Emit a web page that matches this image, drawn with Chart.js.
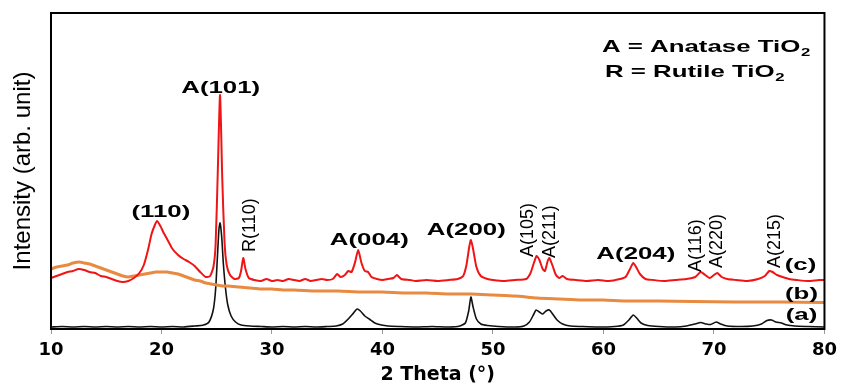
<!DOCTYPE html>
<html>
<head>
<meta charset="utf-8">
<script src="https://cdn.jsdelivr.net/npm/chart.js@4.4.0/dist/chart.umd.min.js"></script>
<style>
  body { margin: 0; background: #fff; }
  #wrap { width: 843px; height: 387px; }
</style>
</head>
<body>
<div id="wrap"><canvas id="xrd" width="843" height="387"></canvas></div>
<script>
// 2 theta (deg) and intensity (arb. unit)
const thetaC = [10.0, 10.5, 11.0, 11.5, 12.0, 12.5, 13.0, 13.5, 14.0, 14.5, 15.0, 15.5, 16.0, 16.5, 17.0, 17.5, 18.0, 18.4, 18.8, 19.1,
  19.4, 19.6, 19.9, 20.2, 20.6, 21.0, 21.5, 22.0, 22.5, 23.0, 23.5, 24.0, 24.4, 24.7, 24.9, 25.1, 25.3, 25.5, 25.7, 25.9,
  26.2, 26.6, 27.0, 27.2, 27.4, 27.6, 27.9, 28.4, 29.0, 29.5, 30.0, 30.5, 31.0, 31.5, 32.0, 32.5, 33.0, 33.5, 34.0, 34.5,
  35.0, 35.5, 35.9, 36.2, 36.6, 36.9, 37.2, 37.5, 37.8, 38.1, 38.4, 38.7, 39.0, 39.5, 40.0, 40.5, 41.0, 41.3, 41.7, 42.5,
  43.0, 44.0, 45.0, 46.0, 46.8, 47.3, 47.6, 47.85, 48.0, 48.2, 48.5, 48.9, 49.5, 50.0, 51.0, 52.0, 53.0, 53.4, 53.7, 53.95,
  54.2, 54.5, 54.7, 54.95, 55.1, 55.4, 55.7, 56.0, 56.3, 56.7, 57.5, 58.5, 59.5, 60.5, 61.5, 62.0, 62.4, 62.7, 63.0, 63.3,
  63.8, 64.5, 65.5, 66.5, 67.5, 68.3, 68.8, 69.2, 69.6, 70.0, 70.3, 70.7, 71.2, 72.0, 73.0, 74.0, 74.6, 75.0, 75.3, 75.7,
  76.2, 76.8, 77.5, 78.5, 79.5, 80.0];
const intensityC = [51, 53, 55, 57, 58, 60, 59, 57, 56, 53, 52, 50, 48, 47, 48, 51, 56, 64, 80, 95,
  104, 108, 103, 96, 88, 80, 74, 70, 67, 63, 57, 52, 53, 62, 85, 160, 234, 150, 88, 64,
  54, 50, 51, 58, 71, 60, 51, 49, 48, 50, 48, 49, 48, 50, 49, 48, 50, 48, 49, 50,
  49, 50, 55, 52, 54, 58, 57, 66, 79, 66, 58, 57, 52, 50, 49, 50, 51, 54, 50, 49,
  48, 49, 48, 49, 50, 53, 64, 82, 89, 80, 62, 53, 50, 49, 48, 49, 50, 56, 66, 73,
  69, 60, 58, 68, 71, 63, 54, 51, 53, 50, 49, 48, 49, 48, 50, 52, 60, 66, 61, 55,
  50, 49, 48, 49, 50, 52, 57, 54, 51, 54, 56, 52, 50, 49, 48, 50, 53, 58, 57, 54,
  52, 50, 49, 48, 49, 49];

const thetaB = [10, 10.5, 11, 11.5, 12, 12.6, 13, 13.5, 14, 14.5, 15, 15.5, 16, 16.5, 17, 17.5, 18, 18.5, 19, 19.5,
  20, 20.5, 21, 21.5, 22, 22.5, 23, 23.5, 24, 24.5, 25, 25.5, 26, 27, 28, 29, 30, 31, 32, 34,
  36, 38, 40, 42, 44, 46, 48, 50, 52, 54, 56, 58, 60, 62, 65, 68, 72, 76, 80];
const intensityB = [60, 62, 63, 64, 66, 67, 66, 65, 63, 61, 59, 57, 55, 53, 52, 53, 54, 55, 56, 57,
  57, 57, 56, 55, 53, 51, 49, 48, 46, 45, 44, 43, 43, 42, 41, 40, 40, 39, 39, 38,
  38, 37, 37, 36, 36, 35, 35, 34, 33, 31, 30, 29, 29, 28, 28, 27.5, 27, 27, 26.5];

const thetaA = [10, 11, 12, 13, 14, 15, 16, 17, 18, 19, 20, 21, 22, 23, 23.8, 24.3, 24.7, 24.9, 25.05, 25.2,
  25.3, 25.45, 25.6, 25.8, 26.0, 26.3, 26.7, 27.2, 28, 29, 30, 31, 32, 33, 34, 35, 35.8, 36.4, 36.9, 37.3,
  37.7, 38.0, 38.4, 38.8, 39.3, 39.9, 40.5, 41.5, 43, 44.5, 46, 47, 47.5, 47.8, 48.0, 48.2, 48.5, 48.9, 49.5, 50.5,
  52, 52.8, 53.3, 53.7, 53.9, 54.2, 54.5, 54.8, 55.1, 55.4, 55.8, 56.3, 57, 58, 59.5, 61, 61.8, 62.3, 62.7, 63.0,
  63.4, 64, 65, 66.5, 67.5, 68.3, 68.8, 69.3, 69.7, 70.2, 70.6, 71.2, 72.5, 73.5, 74.3, 74.8, 75.2, 75.6, 76.1, 76.6,
  77.3, 78.5, 80];
const intensityA = [2, 2.5, 2, 2.5, 2, 2.5, 2, 2.5, 2, 2.5, 2, 2.5, 2, 3, 4, 7, 20, 40, 70, 100,
  106, 92, 65, 40, 24, 13, 7, 4, 3, 2.5, 2, 2.5, 2, 2.5, 2, 2.5, 3, 5, 10, 15,
  20, 18, 13, 10, 6, 4, 3, 2.5, 2, 2.5, 2, 3, 6, 18, 32, 22, 10, 5, 3.5, 2.5,
  2, 3, 7, 15, 19, 17, 15, 18, 19, 15, 9, 5, 3, 2.5, 2, 2.5, 4, 9, 14, 11,
  6, 3.5, 2.5, 2, 3, 5, 6.5, 5, 4.5, 7, 5, 3, 2.5, 3, 5, 8.5, 9, 7, 6, 4,
  3, 2.5, 2];

const xTicks = [10, 20, 30, 40, 50, 60, 70, 80];

// peak labels: [text, theta, intensity]
const peakLabels = [['A(101)', 25.36, 236], ['(110)', 19.94, 112], ['A(004)', 38.81, 84], ['A(200)', 47.58, 94],
  ['A(204)', 62.93, 70], ['(c)', 77.83, 59], ['(b)', 77.92, 30], ['(a)', 77.92, 9]];
const sideLabels = [['R(110)', 27.97, 77], ['A(105)', 53.18, 72], ['A(211)', 55.16, 71],
  ['A(116)', 68.35, 57], ['A(220)', 70.25, 61], ['A(215)', 75.49, 61]];
const keyLines = [['A = Anatase TiO', 59.86, 277], ['R = Rutile TiO', 60.13, 252]];

const pts = (xs, ys) => xs.map((x, i) => ({ x: x, y: ys[i] }));

const textPlugin = {
  id: 'xrdText',
  afterDatasetsDraw(chart) {
    const { ctx, chartArea, scales } = chart;
    const xs = scales.x, ys = scales.y;
    ctx.save();
    ctx.fillStyle = '#000';

    // bold labels, stretched wide like the original figure
    ctx.font = 'bold 17px "Liberation Sans", Arial, sans-serif';
    ctx.textAlign = 'center';
    ctx.textBaseline = 'alphabetic';
    peakLabels.forEach(([t, th, v]) => {
      ctx.save();
      ctx.translate(xs.getPixelForValue(th), ys.getPixelForValue(v));
      ctx.scale(1.52, 1);
      ctx.fillText(t, 0, 0);
      ctx.restore();
    });

    // vertical labels
    ctx.font = '18px "Liberation Sans", Arial, sans-serif';
    ctx.textAlign = 'left';
    ctx.textBaseline = 'middle';
    sideLabels.forEach(([t, th, v]) => {
      ctx.save();
      ctx.translate(xs.getPixelForValue(th), ys.getPixelForValue(v));
      ctx.rotate(-Math.PI / 2);
      ctx.fillText(t, 0, 0);
      ctx.restore();
    });

    // key with subscript 2
    ctx.textBaseline = 'alphabetic';
    keyLines.forEach(([t, th, v]) => {
      ctx.save();
      ctx.translate(xs.getPixelForValue(th), ys.getPixelForValue(v));
      ctx.scale(1.52, 1);
      ctx.font = 'bold 17px "Liberation Sans", Arial, sans-serif';
      ctx.fillText(t, 0, 0);
      const w = ctx.measureText(t).width;
      ctx.font = 'bold 11px "Liberation Sans", Arial, sans-serif';
      ctx.fillText('2', w + 0.5, 4);
      ctx.restore();
    });

    // frame
    ctx.strokeStyle = '#000';
    ctx.lineWidth = 2;
    ctx.strokeRect(chartArea.left, chartArea.top, chartArea.right - chartArea.left, chartArea.bottom - chartArea.top);
    ctx.restore();
  }
};

new Chart(document.getElementById('xrd'), {
  type: 'line',
  data: {
    datasets: [
      { label: '(c)', data: pts(thetaC, intensityC), borderColor: '#f01414', borderWidth: 2 },
      { label: '(b)', data: pts(thetaB, intensityB), borderColor: '#e88a40', borderWidth: 3 },
      { label: '(a)', data: pts(thetaA, intensityA), borderColor: '#111111', borderWidth: 1.6 }
    ]
  },
  options: {
    responsive: false,
    animation: false,
    parsing: false,
    elements: { point: { radius: 0 }, line: { tension: 0.2 } },
    layout: { padding: { top: 13, right: 17, bottom: 0, left: 0 } },
    plugins: { legend: { display: false }, tooltip: { enabled: false } },
    scales: {
      x: {
        type: 'linear',
        min: 10,
        max: 80,
        afterBuildTicks: s => { s.ticks = xTicks.map(v => ({ value: v })); },
        afterFit: s => { s.height = 58; },
        ticks: { padding: 6, color: '#000', font: { family: '"DejaVu Sans", sans-serif', weight: 'bold', size: 18 } },
        grid: { drawOnChartArea: false, tickLength: 5, color: '#999' },
        border: { display: false },
        title: {
          display: true,
          text: '2 Theta (°)',
          color: '#000',
          padding: { top: 0, bottom: 1 },
          font: { family: '"DejaVu Sans", sans-serif', weight: 'bold', size: 19 }
        }
      },
      y: {
        min: 0,
        max: 316,
        afterFit: s => { s.width = 51; },
        ticks: { display: false },
        grid: { display: false },
        border: { display: false },
        title: {
          display: true,
          text: 'Intensity (arb. unit)',
          color: '#000',
          padding: { top: 11, bottom: 0 },
          font: { family: '"Liberation Sans", Arial, sans-serif', size: 24, lineHeight: 1 }
        }
      }
    }
  },
  plugins: [textPlugin]
});
</script>
</body>
</html>
